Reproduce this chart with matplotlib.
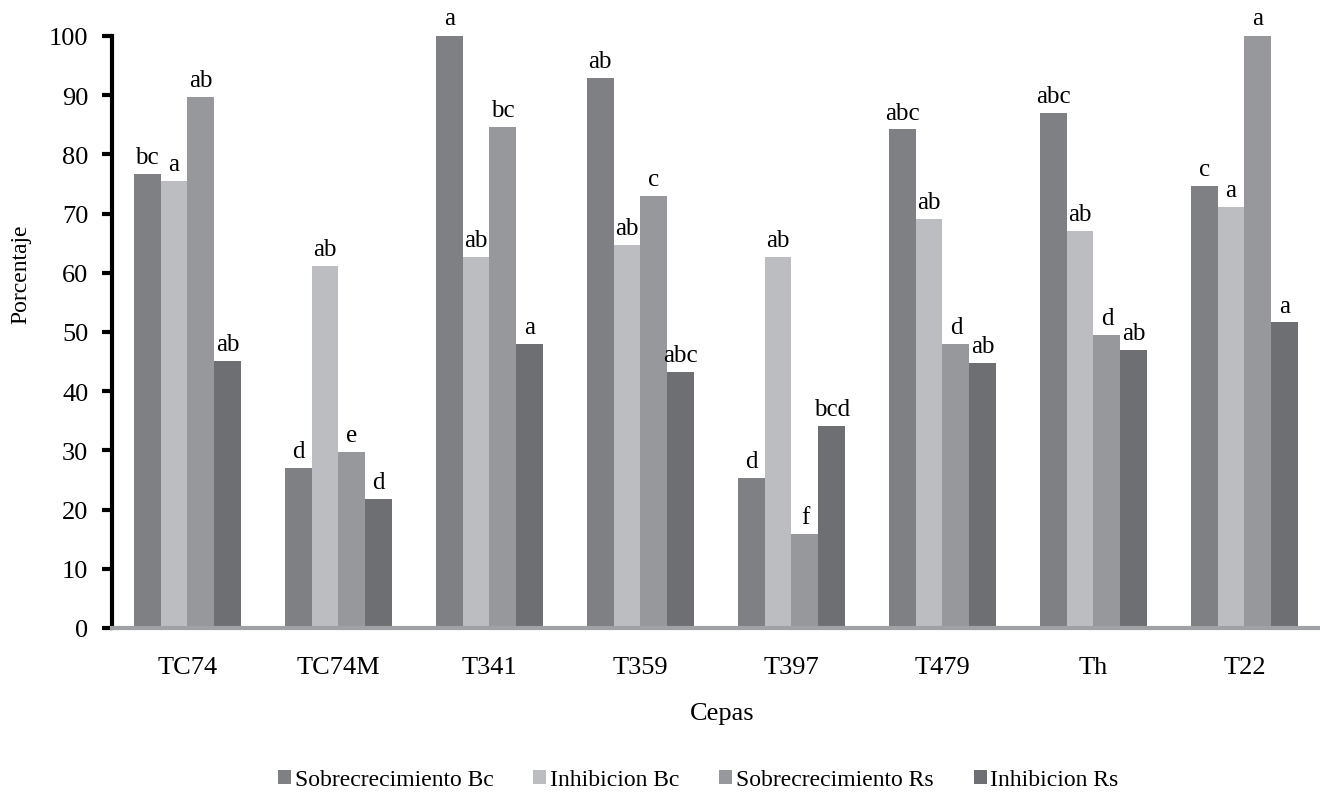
import numpy as np
import matplotlib
matplotlib.use("Agg")
import matplotlib.pyplot as plt

# ---------------------------------------------------------------- data
cepas = ["TC74", "TC74M", "T341", "T359", "T397", "T479", "Th", "T22"]
series = ["Sobrecrecimiento Bc", "Inhibicion Bc", "Sobrecrecimiento Rs", "Inhibicion Rs"]

sobre_bc = [76.7, 27.0, 100.2, 92.9, 25.4, 84.2, 87.0, 74.7]
inhib_bc = [75.5, 61.2, 62.6, 64.7, 62.7, 69.1, 67.1, 71.1]
sobre_rs = [89.7, 29.7, 84.6, 73.0, 15.9, 48.0, 49.5, 100.2]
inhib_rs = [45.1, 21.8, 48.0, 43.2, 34.1, 44.8, 46.9, 51.6]

letras_sobre_bc = ["bc", "d", "a", "ab", "d", "abc", "abc", "c"]
letras_inhib_bc = ["a", "ab", "ab", "ab", "ab", "ab", "ab", "a"]
letras_sobre_rs = ["ab", "e", "bc", "c", "f", "d", "d", "a"]
letras_inhib_rs = ["ab", "d", "a", "abc", "bcd", "ab", "ab", "a"]

colors = ["#7f8084", "#bcbdc1", "#97989c", "#6e6f73"]

# ---------------------------------------------------------------- plot
plt.rcParams["font.family"] = ["Liberation Serif", "DejaVu Serif"]

fig = plt.figure(figsize=(13.2, 8.03), dpi=100)
ax = fig.add_axes([0.0848, 0.2167, 0.9152, 0.7373])

x = np.arange(len(cepas))
w = 0.178
values = [sobre_bc, inhib_bc, sobre_rs, inhib_rs]
letters = [letras_sobre_bc, letras_inhib_bc, letras_sobre_rs, letras_inhib_rs]

for i, (vals, lets, name) in enumerate(zip(values, letters, series)):
    pos = x + (i - 1.5) * w
    ax.bar(pos, vals, width=w, color=colors[i], label=name, zorder=2)
    for px, v, t in zip(pos, vals, lets):
        ax.text(px, v + 1.0, t, ha="center", va="bottom", fontsize=18)

ax.set_xlim(-0.5, len(cepas) - 0.5)
ax.set_ylim(0, 100)
ax.set_yticks(range(0, 101, 10))
ax.set_xticks(x)
ax.set_xticklabels(cepas)

for s in ["top", "right"]:
    ax.spines[s].set_visible(False)
ax.spines["left"].set_linewidth(3)
ax.spines["left"].set_color("black")
ax.spines["bottom"].set_linewidth(3)
ax.spines["bottom"].set_color("#a0a1a4")
ax.spines["bottom"].set_zorder(3)

ax.tick_params(axis="y", length=7, width=3, labelsize=19, pad=10)
ax.tick_params(axis="x", length=0, labelsize=19, pad=20)

ax.set_ylabel("Porcentaje", fontsize=17)
ax.yaxis.label.set_verticalalignment("center")
ax.yaxis.set_label_coords(-0.075, 0.6)
ax.set_xlabel("Cepas", fontsize=19)
ax.xaxis.set_label_coords(0.505, -0.125)

fig.legend(loc="lower center", bbox_to_anchor=(0.529, -0.012), ncol=4, frameon=False,
           fontsize=17, handlelength=0.55, handleheight=0.55, handletextpad=0.15,
           columnspacing=1.7)

fig.savefig("out.png", dpi=100)
